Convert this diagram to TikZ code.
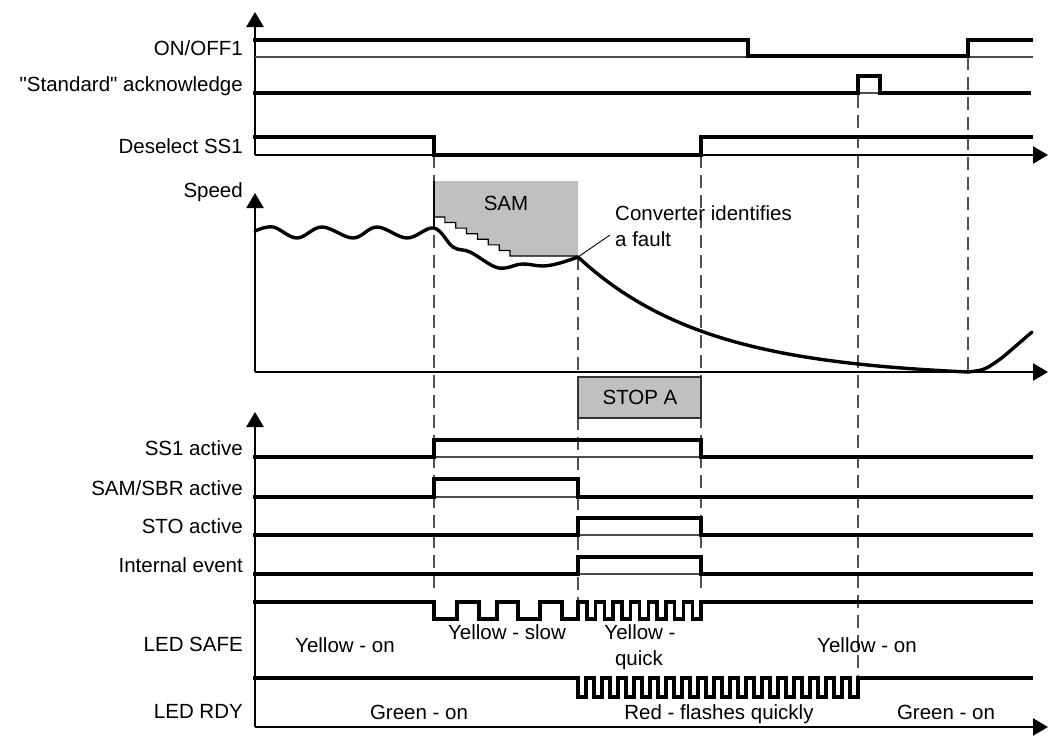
\documentclass[tikz,border=0pt]{standalone}
\usepackage{fontspec}
\setmainfont{Liberation Sans}[Ligatures=TeXOff]
\usetikzlibrary{arrows.meta}
\definecolor{boxgray}{HTML}{BFC0C2}
\definecolor{dashgray}{HTML}{505050}
\tikzset{
  sig/.style={line width=3.4pt, line join=miter, line cap=butt},
  thinl/.style={line width=1.2pt, black!70},
  axisl/.style={line width=2.4pt, -{Triangle[length=15pt,width=17pt]}},
  dashv/.style={line width=1.2pt, dashgray, dash pattern=on 13pt off 7pt},
  lbl/.style={anchor=base east, inner sep=0pt, font=\fontsize{20.5}{24}\selectfont},
  txt/.style={anchor=base, inner sep=0pt, font=\fontsize{20.5}{24}\selectfont},
  graybox/.style={fill=boxgray}
}
\begin{document}
\begin{tikzpicture}[x=1pt,y=-1pt]
\useasboundingbox (0,0) rectangle (1049,744);

% dashed time markers
\draw[dashv] (434,155) -- (434,593);
\draw[dashv] (701,155) -- (701,593);
\draw[dashv] (578,257) -- (578,600);
\draw[dashv] (858,95) -- (858,680);
\draw[dashv] (968,57) -- (968,372);

% SAM gray region with staircase
\fill[boxgray] (434,181) -- (578,181) -- (578,256) -- (510,256)
  \foreach \k in {6,5,...,0} { -- ({434+10.86*(\k+1)},{217+5.57*(\k+1)}) -- ({434+10.86*(\k+1)},{217+5.57*\k}) } -- (434,217) -- cycle;
\draw[line width=1.2pt] (434,217) \foreach \k in {0,...,6} { -- ({434+10.86*(\k+1)},{217+5.57*\k}) -- ({434+10.86*(\k+1)},{217+5.57*(\k+1)}) } -- (578,256);
\draw[line width=2pt] (434,181) -- (434,229);
\node[txt] (sam) at (506,210) {SAM};

% STOP A box
\draw[graybox, line width=1.4pt, draw=black!80] (578,377) rectangle (701,418);
\node[txt] (stopa) at (640,404) {STOP A};

% top section axes
\draw[axisl] (255,155) -- (255,12);
\draw[axisl] (255,155) -- (1048,155);

% ON/OFF1
\draw[thinl] (255,57) -- (748,57);
\draw[thinl] (968,57) -- (1033,57);
\draw[sig] (253,40) -- (748,40) -- (748,56) -- (968,56) -- (968,40) -- (1033,40);
% Standard acknowledge
\draw[thinl] (858,93) -- (880,93);
\draw[sig] (253,93) -- (858,93) -- (858,76) -- (880,76) -- (880,93) -- (1031,93);
% Deselect SS1
\draw[sig] (253,137) -- (434,137) -- (434,155) -- (701,155) -- (701,137) -- (1033,137);

\node[lbl] (l1) at (243,55) {ON/OFF1};
\node[lbl] (l2) at (243,91) {"Standard" acknowledge};
\node[lbl] (l3) at (243,153) {Deselect SS1};

% speed section
\draw[axisl] (255,372) -- (255,193);
\draw[axisl] (255,372) -- (1048,372);
\node[lbl] (l4) at (243,197) {Speed};
\draw[line width=3.4pt, line cap=round] plot[smooth, tension=0.6] coordinates {
  (255,231) (273,227) (297,238) (322,227) (353,238) (377,227) (407,238) (434,228)
  (453,247) (470,252) (493,266) (505,268) (522,264) (543,266) (560,263) (578,257)};
\draw[line width=3.4pt, line cap=round] plot[domain=0:390, samples=80] ({578+\x},{372-115*(exp(-\x/130)-0.0498)/0.9502});
\draw[line width=3.4pt, line cap=round] (968,372) .. controls (985,370) .. (1003,357) -- (1032,332);
\coordinate (fault) at (578,257);
\node[anchor=base west, inner sep=0pt, font=\fontsize{20.5}{24}\selectfont] (conv) at (615,220) {Converter identifies};
\node[anchor=base west, inner sep=0pt, font=\fontsize{20.5}{24}\selectfont] (conv2) at (615,246) {a fault};
\draw[line width=0.9pt] (fault) -- (610,235);

% bottom section axes
\draw[axisl] (255,727) -- (255,412);
\draw[axisl] (255,727) -- (1048,727);

% SS1 active
\draw[thinl] (434,457) -- (701,457);
\draw[sig] (253,457) -- (434,457) -- (434,440) -- (701,440) -- (701,457) -- (1033,457);
% SAM/SBR active
\draw[thinl] (434,497) -- (578,497);
\draw[sig] (253,497) -- (434,497) -- (434,479) -- (578,479) -- (578,497) -- (1033,497);
% STO active
\draw[thinl] (578,535) -- (701,535);
\draw[sig] (253,535) -- (578,535) -- (578,518) -- (701,518) -- (701,535) -- (1033,535);
% Internal event
\draw[thinl] (578,574) -- (701,574);
\draw[sig] (253,574) -- (578,574) -- (578,557) -- (701,557) -- (701,574) -- (1033,574);

\node[lbl] (l5) at (243,455) {SS1 active};
\node[lbl] (l6) at (243,495) {SAM/SBR active};
\node[lbl] (l7) at (243,533) {STO active};
\node[lbl] (l8) at (243,572) {Internal event};

% LED SAFE
\draw[sig] (253,602) -- (434,602) -- (434,619) -- (457,619) -- (457,602) -- (479,602) -- (479,619)
  -- (497,619) -- (497,602) -- (518,602) -- (518,619) -- (540,619) -- (540,602) -- (562,602)
  -- (562,619) -- (578,619) -- (578,602)
  \foreach \k in {0,...,6} { -- ({586.8+17.57*\k},602) -- ({586.8+17.57*\k},619) -- ({595.6+17.57*\k},619) -- ({595.6+17.57*\k},602) }
  -- (1033,602);
% LED RDY
\draw[sig] (253,678)
  \foreach \k in {0,...,17} { -- ({578+16*\k},678) -- ({578+16*\k},697) -- ({586+16*\k},697) -- ({586+16*\k},678) }
  -- (1033,678);

\node[lbl] (l9) at (243,651) {LED SAFE};
\node[lbl] (l10) at (243,718) {LED RDY};

\node[txt] (t1) at (345,652) {Yellow - on};
\node[txt] (t2) at (507,639) {Yellow - slow};
\node[txt] (t3) at (640,639) {Yellow -};
\node[txt] (t4) at (639,665) {quick};
\node[txt] (t5) at (867,652) {Yellow - on};
\node[txt] (t6) at (419,719) {Green - on};
\node[txt] (t7) at (719,719) {Red - flashes quickly};
\node[txt] (t8) at (946,719) {Green - on};
\end{tikzpicture}
\end{document}
